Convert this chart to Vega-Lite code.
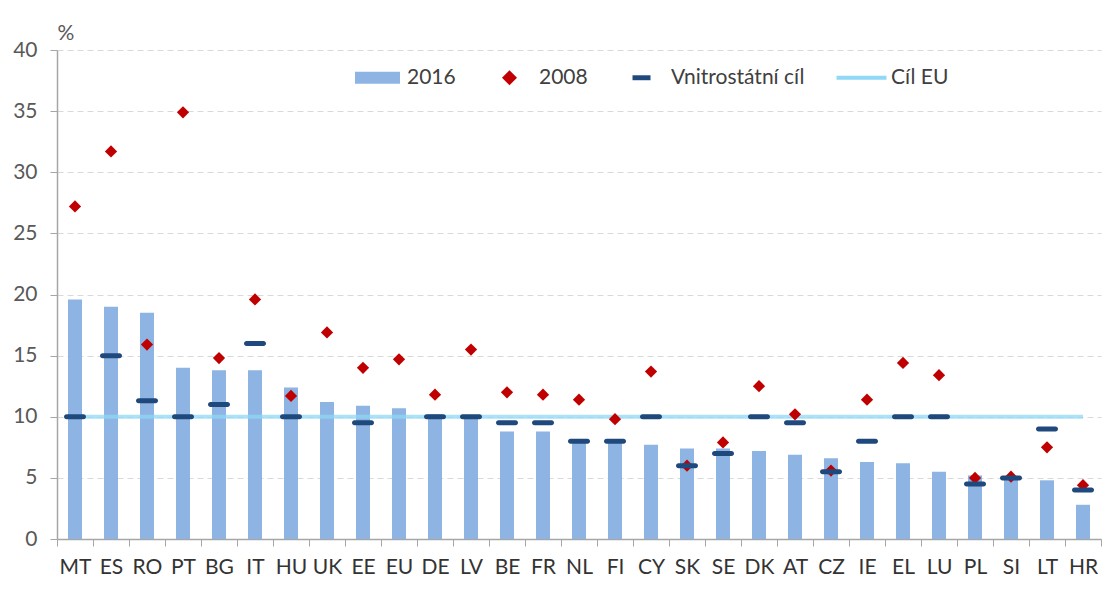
{
  "$schema": "https://vega.github.io/schema/vega-lite/v6.json",
  "autosize": {"type": "none"},
  "width": 1044,
  "height": 489,
  "padding": {"left": 57, "top": 50, "right": 14, "bottom": 65},
  "background": "white",
  "config": {
    "font": "Lato",
    "view": {"stroke": null},
    "axis": {"labelFont": "Lato", "titleFont": "Lato"},
    "legend": {"labelFont": "Lato"}
  },
  "data": {
    "values": [
      {"country": "MT", "v2016": 19.6, "v2008": 27.2, "target": 10, "eu": 10},
      {"country": "ES", "v2016": 19.0, "v2008": 31.7, "target": 15, "eu": 10},
      {"country": "RO", "v2016": 18.5, "v2008": 15.9, "target": 11.3, "eu": 10},
      {"country": "PT", "v2016": 14.0, "v2008": 34.9, "target": 10, "eu": 10},
      {"country": "BG", "v2016": 13.8, "v2008": 14.8, "target": 11, "eu": 10},
      {"country": "IT", "v2016": 13.8, "v2008": 19.6, "target": 16, "eu": 10},
      {"country": "HU", "v2016": 12.4, "v2008": 11.7, "target": 10, "eu": 10},
      {"country": "UK", "v2016": 11.2, "v2008": 16.9, "target": null, "eu": 10},
      {"country": "EE", "v2016": 10.9, "v2008": 14.0, "target": 9.5, "eu": 10},
      {"country": "EU", "v2016": 10.7, "v2008": 14.7, "target": null, "eu": 10},
      {"country": "DE", "v2016": 10.2, "v2008": 11.8, "target": 10, "eu": 10},
      {"country": "LV", "v2016": 10.0, "v2008": 15.5, "target": 10, "eu": 10},
      {"country": "BE", "v2016": 8.8, "v2008": 12.0, "target": 9.5, "eu": 10},
      {"country": "FR", "v2016": 8.8, "v2008": 11.8, "target": 9.5, "eu": 10},
      {"country": "NL", "v2016": 8.0, "v2008": 11.4, "target": 8, "eu": 10},
      {"country": "FI", "v2016": 7.9, "v2008": 9.8, "target": 8, "eu": 10},
      {"country": "CY", "v2016": 7.7, "v2008": 13.7, "target": 10, "eu": 10},
      {"country": "SK", "v2016": 7.4, "v2008": 6.0, "target": 6, "eu": 10},
      {"country": "SE", "v2016": 7.4, "v2008": 7.9, "target": 7, "eu": 10},
      {"country": "DK", "v2016": 7.2, "v2008": 12.5, "target": 10, "eu": 10},
      {"country": "AT", "v2016": 6.9, "v2008": 10.2, "target": 9.5, "eu": 10},
      {"country": "CZ", "v2016": 6.6, "v2008": 5.6, "target": 5.5, "eu": 10},
      {"country": "IE", "v2016": 6.3, "v2008": 11.4, "target": 8, "eu": 10},
      {"country": "EL", "v2016": 6.2, "v2008": 14.4, "target": 10, "eu": 10},
      {"country": "LU", "v2016": 5.5, "v2008": 13.4, "target": 10, "eu": 10},
      {"country": "PL", "v2016": 5.2, "v2008": 5.0, "target": 4.5, "eu": 10},
      {"country": "SI", "v2016": 4.9, "v2008": 5.1, "target": 5, "eu": 10},
      {"country": "LT", "v2016": 4.8, "v2008": 7.5, "target": 9, "eu": 10},
      {"country": "HR", "v2016": 2.8, "v2008": 4.4, "target": 4, "eu": 10}
    ]
  },
  "encoding": {
    "x": {
      "field": "country",
      "type": "nominal",
      "sort": null,
      "scale": {"paddingInner": 0, "paddingOuter": 0},
      "axis": {
        "title": null,
        "labelAngle": 0,
        "labelFontSize": 21,
        "labelColor": "#333333",
        "labelPadding": 10,
        "tickBand": "extent",
        "tickSize": 7,
        "tickColor": "#A6A6A6",
        "domainColor": "#A6A6A6",
        "domainWidth": 1.5,
        "grid": false
      }
    }
  },
  "layer": [
    {
      "mark": {"type": "bar", "size": 14, "color": "#8DB4E2"},
      "encoding": {
        "y": {
          "field": "v2016",
          "type": "quantitative",
          "scale": {"domain": [0, 40], "nice": false},
          "axis": {
            "title": "%",
            "titleAngle": 0,
            "titleX": 0,
            "titleY": -11,
            "titleAlign": "left",
            "titleBaseline": "alphabetic",
            "titleFontSize": 21,
            "titleFontWeight": "normal",
            "titleColor": "#595959",
            "values": [0, 5, 10, 15, 20, 25, 30, 35, 40],
            "labelFontSize": 21,
            "labelColor": "#595959",
            "labelPadding": 13,
            "tickSize": 7,
            "tickColor": "#A6A6A6",
            "domainColor": "#A6A6A6",
            "domainWidth": 1.5,
            "gridColor": "#D9D9D9",
            "gridDash": [6, 4],
            "gridWidth": 1
          }
        },
        "color": {
          "datum": "2016",
          "type": "nominal",
          "scale": {
            "domain": ["2016", "2008", "Vnitrostátní cíl", "Cíl EU"],
            "range": ["#8DB4E2", "#C00000", "#1F497D", "#8FD8F6"]
          },
          "legend": {
            "title": null,
            "orient": "none",
            "direction": "horizontal",
            "legendX": 298,
            "legendY": 5,
            "padding": 0,
            "symbolSize": 2025,
            "symbolStrokeWidth": 0,
            "labelFontSize": 21,
            "labelColor": "#404040",
            "labelOffset": 7,
            "columnPadding": 31,
            "encode": {
              "symbols": {
                "update": {
                  "fill": {"scale": "color", "field": "value"},
                  "stroke": {"value": "transparent"},
                  "opacity": {"value": 1},
                  "fillOpacity": {"value": 1},
                  "shape": [
                    {"test": "datum.value === '2016'", "value": "M-1,-0.267H1V0.267H-1Z"},
                    {"test": "datum.value === '2008'", "value": "M0,-0.333L0.333,0L0,0.333L-0.333,0Z"},
                    {"test": "datum.value === 'Vnitrostátní cíl'", "value": "M-0.4,-0.11H0.4V0.11H-0.4Z"},
                    {"value": "M-1.11,-0.09H1.11V0.09H-1.11Z"}
                  ]
                }
              }
            }
          }
        }
      }
    },
    {
      "mark": {"type": "line", "strokeWidth": 4, "color": "#6CCDF2", "opacity": 0.75},
      "encoding": {
        "y": {"field": "eu", "type": "quantitative"},
        "color": {"datum": "Cíl EU", "type": "nominal"}
      }
    },
    {
      "mark": {"type": "point", "shape": "diamond", "filled": true, "size": 150, "opacity": 1, "color": "#C00000"},
      "encoding": {
        "y": {"field": "v2008", "type": "quantitative"},
        "color": {"datum": "2008", "type": "nominal"}
      }
    },
    {
      "mark": {"type": "tick", "size": 22, "thickness": 5, "cornerRadius": 2.5, "opacity": 1, "color": "#1F497D"},
      "encoding": {
        "y": {"field": "target", "type": "quantitative"},
        "color": {"datum": "Vnitrostátní cíl", "type": "nominal"}
      }
    }
  ]
}
